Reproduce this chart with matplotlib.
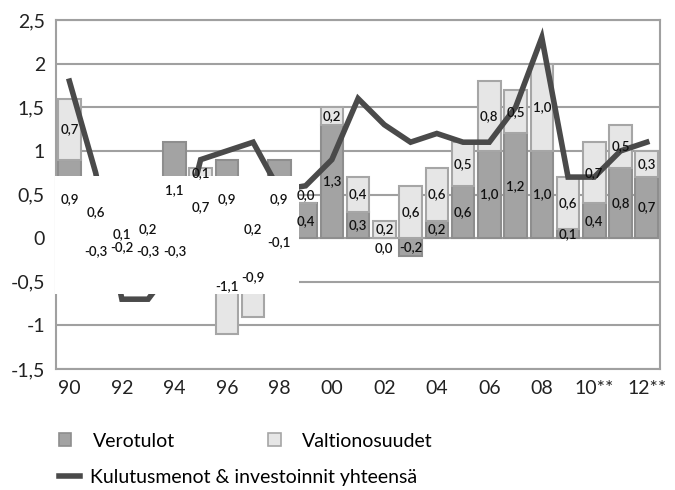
import matplotlib
matplotlib.use("Agg")
from matplotlib import pyplot as plt
from matplotlib.patches import Patch, Rectangle
from matplotlib.lines import Line2D

plt.rcParams['font.family'] = ['Lato', 'DejaVu Sans']

years = list(range(1990, 2013))
verotulot = [0.9, 0.6, 0.1, 0.2, 1.1, 0.7, 0.9, 0.2, 0.9, 0.4, 1.3, 0.3,
             0.0, -0.2, 0.2, 0.6, 1.0, 1.2, 1.0, 0.1, 0.4, 0.8, 0.7]
valtionosuudet = [0.7, -0.3, -0.2, -0.3, -0.3, 0.1, -1.1, -0.9, -0.1, 0.0,
                  0.2, 0.4, 0.2, 0.6, 0.6, 0.5, 0.8, 0.5, 1.0, 0.6, 0.7, 0.5, 0.3]
kulutus = [1.8, 0.75, -0.7, -0.7, -0.3, 0.9, 1.0, 1.1, 0.55, 0.6, 0.9, 1.6,
           1.3, 1.1, 1.2, 1.1, 1.1, 1.5, 2.3, 0.7, 0.7, 1.0, 1.1]
tick_years = list(range(1990, 2013, 2))
tick_labels = ["90", "92", "94", "96", "98", "00", "02", "04", "06", "08",
               "10**", "12**"]
y_ticks = [-1.5, -1, -0.5, 0, 0.5, 1, 1.5, 2, 2.5]

dark = "#a3a3a3"
dark_edge = "#8e8e8e"
light = "#e6e6e6"
light_edge = "#a6a6a6"
line_col = "#4a4a4a"
grid_col = "#a0a0a0"

fig = plt.figure(figsize=(6.75, 4.9), dpi=100)
ax = fig.add_axes([0.083, 0.247, 0.895, 0.712])

# stacking: second series sits on the first when signs agree
valt_bottom = []
for v, s in zip(verotulot, valtionosuudet):
    if s >= 0:
        valt_bottom.append(max(v, 0))
    else:
        valt_bottom.append(min(v, 0))

w = 0.86
ax.bar(years, verotulot, width=w, color=dark, edgecolor=dark_edge,
       linewidth=1.5, zorder=2)
ax.bar(years, valtionosuudet, bottom=valt_bottom, width=w, color=light,
       edgecolor=light_edge, linewidth=1.5, zorder=2)
ax.plot(years, kulutus, color=line_col, linewidth=4, zorder=3,
        solid_joinstyle="miter")

# white patch that hides part of the 1990s in the original
ax.add_patch(Rectangle((1989.45, -0.64), 1998.76 - 1989.45, 0.64 + 0.715,
                       facecolor="white", edgecolor="none", zorder=4,
                       clip_on=False))


def fmt(x):
    return ("%.1f" % x).replace(".", ",")


for x, v, s, b in zip(years, verotulot, valtionosuudet, valt_bottom):
    vy = v / 2 if v != 0 else -0.12
    ax.text(x, vy, fmt(v), ha="center", va="center", fontsize=9.5,
            fontweight="semibold", color="#111111", zorder=5)
    sy = b + s / 2 if s != 0 else b + 0.09
    ax.text(x, sy, fmt(s), ha="center", va="center", fontsize=9.5,
            fontweight="semibold", color="#111111", zorder=5)

ax.set_xlim(1989.49, 2012.51)
ax.set_ylim(-1.5, 2.5)
ax.set_yticks(y_ticks)
ax.set_yticklabels([("%g" % t).replace(".", ",") for t in y_ticks])
ax.set_xticks(tick_years)
ax.set_xticklabels(tick_labels)
ax.tick_params(length=0, labelsize=14, colors="#222222", pad=8)
ax.grid(axis="y", color=grid_col, linewidth=1.5, zorder=0)
ax.set_axisbelow(True)
for sp in ax.spines.values():
    sp.set_color(grid_col)
    sp.set_linewidth(1.5)

h_vero = Patch(facecolor=dark, edgecolor=dark_edge, linewidth=1.2)
h_valt = Patch(facecolor=light, edgecolor=light_edge, linewidth=1.2)
h_line = Line2D([], [], color=line_col, linewidth=4)

fig.legend([h_vero, h_valt], ["Verotulot", "Valtionosuudet"], ncol=2,
           loc="center left", bbox_to_anchor=(0.061, 0.1),
           frameon=False, fontsize=14, handlelength=0.65,
           handleheight=0.65, handletextpad=1.1, columnspacing=4.8)
fig.legend([h_line], ["Kulutusmenot & investoinnit yhteensä"],
           loc="center left", bbox_to_anchor=(0.061, 0.026), frameon=False,
           fontsize=14, handlelength=1.1, handletextpad=0.5)

fig.savefig("out.png", dpi=100)
